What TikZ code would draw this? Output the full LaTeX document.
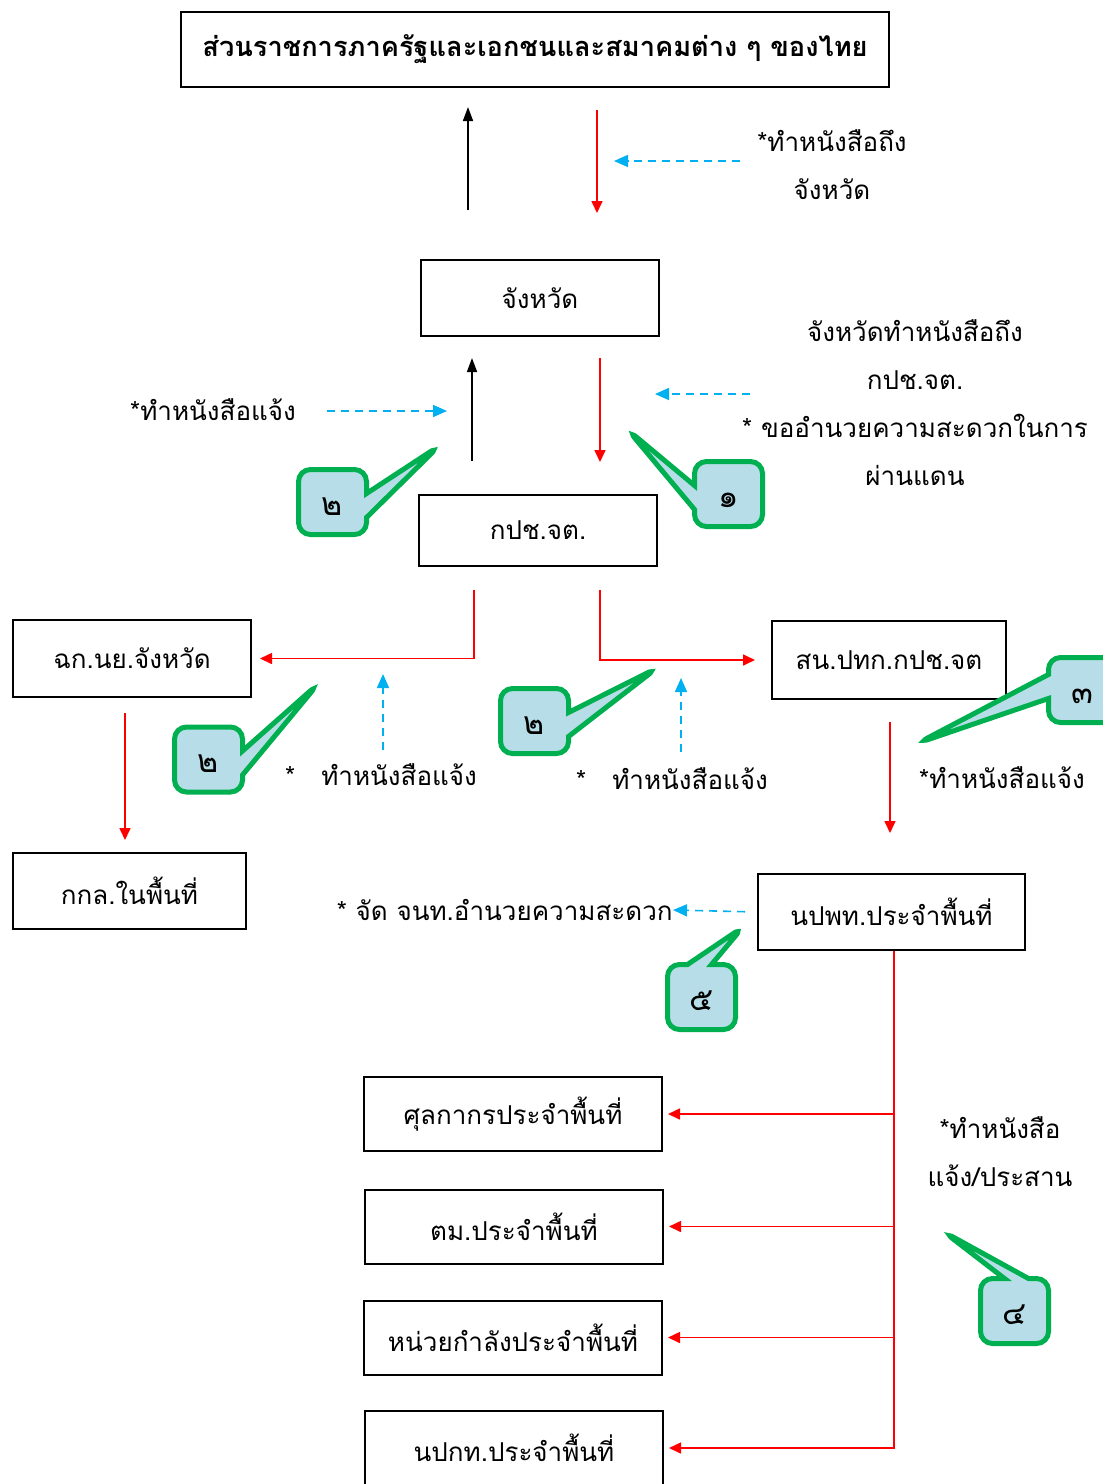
\documentclass[tikz,border=0pt]{standalone}
\usepackage{fontspec}
\setmainfont[Script=Thai]{Loma}
\usetikzlibrary{arrows.meta,shapes.callouts}
\definecolor{arrred}{HTML}{FF0000}
\definecolor{dashblue}{HTML}{00B0F0}
\definecolor{tagline}{HTML}{00B050}
\definecolor{tagfill}{HTML}{B7DEE8}
\tikzset{
  box/.style={draw, line width=1pt, inner sep=0pt, font=\fontsize{13pt}{15pt}\selectfont},
  note/.style={align=center, inner sep=0pt, font=\fontsize{13pt}{24pt}\selectfont},
  blk/.style={-{Triangle[length=7pt,width=5pt]}, line width=0.8pt},
  redarr/.style={arrred, -{Triangle[length=6pt,width=5.5pt]}, line width=0.8pt},
  bluearr/.style={dashblue, dash pattern=on 4pt off 3pt, -{Triangle[length=7pt,width=6pt]}, line width=0.8pt},
  tag/.style={rectangle callout, draw=tagline, fill=tagfill, line width=2.5pt, rounded corners=6pt,
    minimum width=34pt, minimum height=32.5pt, callout pointer width=12pt, inner sep=0pt,
    text height=13pt, text depth=0pt, font=\fontsize{16pt}{18pt}\selectfont}
}
\begin{document}
\begin{tikzpicture}[x=0.5pt, y=-0.5pt]
  \useasboundingbox (0,0) rectangle (1103,1484);

  % กล่อง
  \node[box, minimum width=354pt, minimum height=37.5pt, font=\bfseries\fontsize{13.6pt}{15pt}\selectfont] (org) at (535,49.5) {ส่วนราชการภาครัฐและเอกชนและสมาคมต่าง ๆ ของไทย};
  \node[box, minimum width=119pt, minimum height=38pt] (jh) at (540,298) {จังหวัด};
  \node[box, minimum width=119pt, minimum height=35.5pt] (kpc) at (538,530.5) {กปช.จต.};
  \node[box, minimum width=119pt, minimum height=38.5pt] (chk) at (132,658.5) {ฉก.นย.จังหวัด};
  \node[box, minimum width=117pt, minimum height=39pt] (son) at (889,660) {สน.ปทก.กปช.จต};
  \node[box, minimum width=116.5pt, minimum height=38pt] (kkl) at (129.5,891) {กกล.ในพื้นที่};
  \node[box, minimum width=133.5pt, minimum height=38pt] (npp) at (891.5,912) {นปพท.ประจำพื้นที่};
  \node[box, minimum width=149pt, minimum height=37pt] (s1) at (513,1114) {ศุลกากรประจำพื้นที่};
  \node[box, minimum width=149pt, minimum height=37pt] (s2) at (514,1226.5) {ตม.ประจำพื้นที่};
  \node[box, minimum width=149pt, minimum height=37pt] (s3) at (513,1337.5) {หน่วยกำลังประจำพื้นที่};
  \node[box, minimum width=149pt, minimum height=37pt] (s4) at (514,1448) {นปกท.ประจำพื้นที่};

  % ข้อความ
  \node[note] (n1) at (832,165) {*ทำหนังสือถึง\\จังหวัด};
  \node[note] (n2) at (915,402.5) {จังหวัดทำหนังสือถึง\\กปช.จต.\\* ขออำนวยความสะดวกในการ\\ผ่านแดน};
  \node[note] (n3) at (213,410) {*ทำหนังสือแจ้ง};
  \node[note] (n4) at (381,775) {*\quad ทำหนังสือแจ้ง};
  \node[note] (n5) at (672,779) {*\quad ทำหนังสือแจ้ง};
  \node[note] (n6) at (1002,778) {*ทำหนังสือแจ้ง};
  \node[note, anchor=east] (n7) at (673,910) {* จัด จนท.อำนวยความสะดวก};
  \node[note] (n8) at (1000,1152) {*ทำหนังสือ\\แจ้ง/ประสาน};

  % ลูกศร
  \draw[blk, shorten <=24.5pt, shorten >=9.5pt] (jh.north -| 468,0) -- (org.south -| 468,0);
  \draw[redarr, shorten <=11pt, shorten >=23pt] (org.south -| 597,0) -- (jh.north -| 597,0);
  \draw[blk, shorten <=16.5pt, shorten >=10.5pt] (kpc.north -| 472,0) -- (jh.south -| 472,0);
  \draw[redarr, shorten <=10.5pt, shorten >=16pt] (jh.south -| 600,0) -- (kpc.north -| 600,0);
  \draw[redarr, shorten <=11.5pt, shorten >=4pt] (kpc.south -| 474,0) |- (chk.east);
  \draw[redarr, shorten <=11.5pt, shorten >=8pt] (kpc.south -| 600,0) |- (son.west);
  \draw[redarr, shorten <=7.5pt, shorten >=6pt] (chk.south -| 125,0) -- (kkl.north -| 125,0);
  \draw[redarr, shorten <=11pt, shorten >=20pt] (son.south -| 890,0) -- (npp.north -| 890,0);
  \draw[redarr, shorten >=2.5pt] (npp.south -| 894,0) |- (s4.east);
  \draw[redarr, shorten >=2.5pt] (894,0 |- s1.east) -- (s1.east);
  \draw[redarr, shorten >=2.5pt] (894,0 |- s2.east) -- (s2.east);
  \draw[redarr, shorten >=2.5pt] (894,0 |- s3.east) -- (s3.east);

  % เส้นประ
  \draw[bluearr] (740,161) -- (614,161);
  \draw[bluearr] (750,394) -- (655,394);
  \draw[bluearr] (327,411) -- (447,411);
  \draw[bluearr] (383,750) -- (383,674);
  \draw[bluearr] (681,752) -- (681,678);
  \draw[bluearr, shorten <=6pt] (npp.west) -- (n7.east);

  % ป้ายหมายเลข
  \node[tag, callout absolute pointer={(439,446)}] (c2a) at (332.5,502) {๒};
  \node[tag, callout absolute pointer={(628,430)}] (c1) at (728.5,494) {๑};
  \node[tag, callout absolute pointer={(318,684)}] (c2b) at (208.5,759.5) {๒};
  \node[tag, callout absolute pointer={(657,668)}] (c2c) at (534.5,721) {๒};
  \node[tag, callout absolute pointer={(918,743)}] (c3) at (1082.5,690) {๓};
  \node[tag, callout absolute pointer={(743,927)}] (c5) at (701.5,997) {๕};
  \node[tag, callout absolute pointer={(944,1232)}] (c4) at (1014.5,1311) {๔};
\end{tikzpicture}
\end{document}
